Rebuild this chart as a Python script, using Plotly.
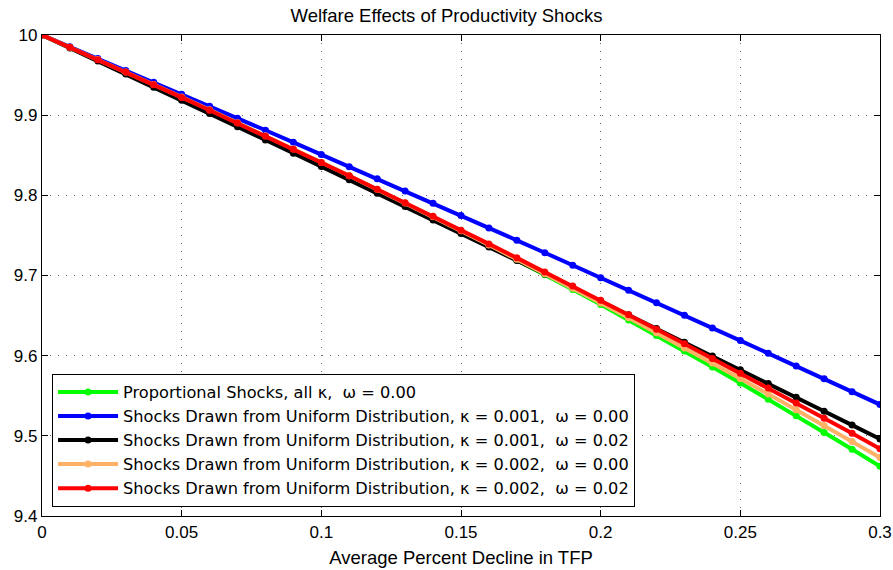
import plotly.graph_objects as go

x_vals = [0.00, 0.01, 0.02, 0.03, 0.04, 0.05, 0.06, 0.07, 0.08, 0.09,
          0.10, 0.11, 0.12, 0.13, 0.14, 0.15, 0.16, 0.17, 0.18, 0.19,
          0.20, 0.21, 0.22, 0.23, 0.24, 0.25, 0.26, 0.27, 0.28, 0.29, 0.30]

green_prop = [10.0, 9.9846, 9.9692, 9.9536, 9.9379, 9.9220, 9.9060, 9.8899, 9.8737, 9.8574,
              9.8408, 9.8240, 9.8070, 9.7898, 9.7725, 9.7550, 9.7372, 9.7192, 9.7010, 9.6825,
              9.6637, 9.6445, 9.6252, 9.6057, 9.5860, 9.5660, 9.5457, 9.5250, 9.5042, 9.4832, 9.4620]

blue_k001_w000 = [10.0, 9.9853, 9.9706, 9.9558, 9.9410, 9.9261, 9.9112, 9.8962, 9.8812, 9.8661,
                  9.8510, 9.8358, 9.8206, 9.8054, 9.7901, 9.7748, 9.7594, 9.7439, 9.7284, 9.7129,
                  9.6973, 9.6817, 9.6660, 9.6503, 9.6346, 9.6188, 9.6029, 9.5870, 9.5711, 9.5551, 9.5390]

black_k001_w002 = [10.0, 9.9838, 9.9675, 9.9512, 9.9349, 9.9185, 9.9021, 9.8856, 9.8691, 9.8526,
                   9.8360, 9.8194, 9.8027, 9.7860, 9.7693, 9.7525, 9.7357, 9.7188, 9.7019, 9.6850,
                   9.6680, 9.6510, 9.6339, 9.6168, 9.5997, 9.5825, 9.5653, 9.5480, 9.5307, 9.5134, 9.4960]

orange_k002_w000 = [10.0, 9.9847, 9.9694, 9.9540, 9.9384, 9.9226, 9.9067, 9.8906, 9.8743, 9.8578,
                    9.8412, 9.8245, 9.8076, 9.7905, 9.7732, 9.7557, 9.7381, 9.7203, 9.7023, 9.6841,
                    9.6658, 9.6473, 9.6286, 9.6097, 9.5907, 9.5715, 9.5521, 9.5326, 9.5129, 9.4930, 9.4729]

red_k002_w002 = [10.0, 9.9847, 9.9692, 9.9537, 9.9380, 9.9221, 9.9062, 9.8901, 9.8738, 9.8575,
                 9.8410, 9.8244, 9.8076, 9.7908, 9.7738, 9.7566, 9.7394, 9.7220, 9.7044, 9.6868,
                 9.6690, 9.6511, 9.6330, 9.6149, 9.5966, 9.5781, 9.5596, 9.5409, 9.5220, 9.5031, 9.4840]

series_names = [
    "Proportional Shocks, all \u03ba,\u00a0 \u03c9 = 0.00",
    "Shocks Drawn from Uniform Distribution, \u03ba = 0.001,\u00a0 \u03c9 = 0.00",
    "Shocks Drawn from Uniform Distribution, \u03ba = 0.001,\u00a0 \u03c9 = 0.02",
    "Shocks Drawn from Uniform Distribution, \u03ba = 0.002,\u00a0 \u03c9 = 0.00",
    "Shocks Drawn from Uniform Distribution, \u03ba = 0.002,\u00a0 \u03c9 = 0.02",
]
series_values = [green_prop, blue_k001_w000, black_k001_w002, orange_k002_w000, red_k002_w002]
series_colors = ["#00FF00", "#0000FF", "#000000", "#FFB266", "#FF0000"]

x_tickvals = [0, 0.05, 0.1, 0.15, 0.2, 0.25, 0.3]
x_ticktext = ["0", "0.05", "0.1", "0.15", "0.2", "0.25", "0.3"]
y_tickvals = [9.4, 9.5, 9.6, 9.7, 9.8, 9.9, 10.0]
y_ticktext = ["9.4", "9.5", "9.6", "9.7", "9.8", "9.9", "10"]

FONT = "Liberation Sans, Arial, Helvetica, sans-serif"
LEG_FONT = "DejaVu Sans, Liberation Sans, Arial, sans-serif"

fig = go.Figure()
for name, vals, col in zip(series_names, series_values, series_colors):
    fig.add_trace(go.Scatter(
        x=x_vals, y=vals, name=name, mode="lines+markers",
        line=dict(color=col, width=4),
        marker=dict(color=col, size=7),
    ))

axis_common = dict(
    showline=True, linecolor="black", linewidth=1.2, mirror="allticks",
    ticks="inside", ticklen=6, tickcolor="black",
    showgrid=True, gridcolor="#666666", griddash="1.3px,6.7px", gridwidth=1,
    zeroline=False, automargin=False,
    tickfont=dict(family=FONT, size=17, color="black"),
)

fig.update_layout(
    width=893, height=570,
    paper_bgcolor="white", plot_bgcolor="white",
    margin=dict(l=42, r=13, t=35, b=54),
    title=dict(text="Welfare Effects of Productivity Shocks", x=0.5, xanchor="center",
               y=0.985, yanchor="top", automargin=False,
               font=dict(family=FONT, size=18.5, color="black")),
    xaxis=dict(range=[0, 0.3], tickvals=x_tickvals, ticktext=x_ticktext,
               title=dict(text="Average Percent Decline in TFP", standoff=10,
                          font=dict(family=FONT, size=18.5, color="black")),
               **axis_common),
    yaxis=dict(range=[9.4, 10.0], tickvals=y_tickvals, ticktext=y_ticktext, **axis_common),
    showlegend=True,
    legend=dict(x=0.012, y=0.019, xanchor="left", yanchor="bottom",
                bgcolor="white", bordercolor="black", borderwidth=1,
                font=dict(family=LEG_FONT, size=16.2, color="black"),
                itemwidth=60, traceorder="normal"),
)

fig.write_html("out.html", config={"displayModeBar": False},
               post_script="document.body.style.margin='0';")
